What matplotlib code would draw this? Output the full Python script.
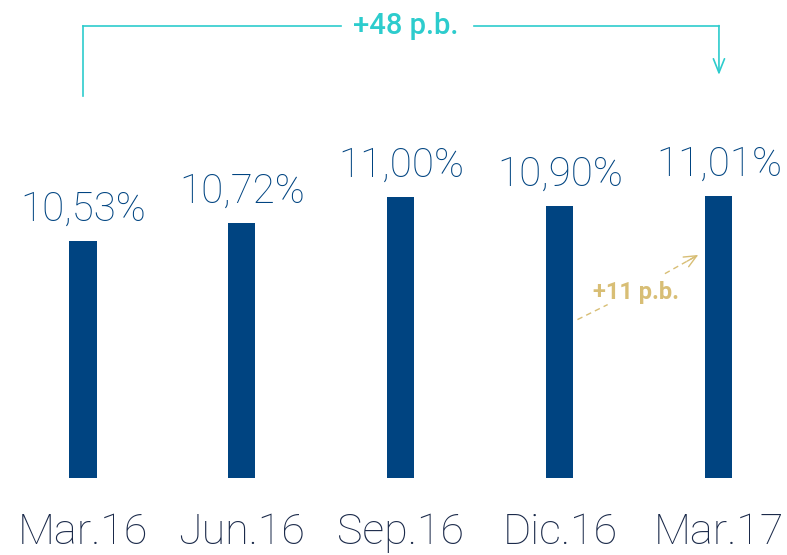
import matplotlib
matplotlib.use("Agg")
import matplotlib.pyplot as plt
import numpy as np

categories = ["Mar.16", "Jun.16", "Sep.16", "Dic.16", "Mar.17"]
values = [10.53, 10.72, 11.00, 10.90, 11.01]
labels = ["10,53%", "10,72%", "11,00%", "10,90%", "11,01%"]
total_change = "+48 p.b."
last_change = "+11 p.b."

navy = "#004481"
teal = "#2dcccd"
gold = "#d8be75"

plt.rcParams['font.family'] = ['Roboto', 'DejaVu Sans']

fig = plt.figure(figsize=(7.87, 5.55), dpi=100)
ax = fig.add_axes([0, 0, 1, 1])
ax.set_xlim(-0.522, 4.428)
ax.set_ylim(7.179, 13.099)
ax.axis('off')

x = np.arange(len(categories))
ax.bar(x, np.array(values) - 8.0, bottom=8.0, width=0.17, color=navy)

for xi, v, lab in zip(x, values, labels):
    ax.text(xi, v + 0.13, lab, ha='center', va='bottom', fontsize=29,
            color=navy, fontweight='light')

for xi, c in zip(x, categories):
    ax.text(xi, 7.42, c, ha='center', va='center', fontsize=31,
            color="#1b2a4a", fontweight='light')

# +48 p.b. bracket
top_y = 12.82
ax.plot([0, 0], [12.07, top_y], color=teal, lw=1.2)
ax.plot([0, 1.62], [top_y, top_y], color=teal, lw=1.2)
ax.plot([2.46, 4.0], [top_y, top_y], color=teal, lw=1.2)
ax.annotate("", xy=(4.0, 12.3), xytext=(4.0, top_y + 0.006),
            arrowprops=dict(arrowstyle="->,head_length=1.0,head_width=0.4",
                            color=teal, lw=1.2, shrinkA=0, shrinkB=0))
ax.text(2.03, top_y, total_change, ha='center', va='center', fontsize=21,
        color=teal, fontweight='medium')

# +11 p.b. dashed arrow, broken around the label
ax.plot([3.11, 3.30], [9.69, 9.85], color=gold, lw=1, linestyle=(0, (4, 3)))
ax.plot([3.66, 3.87], [10.18, 10.38], color=gold, lw=1, linestyle=(0, (4, 3)))
ax.annotate("", xy=(3.87, 10.38), xytext=(3.80, 10.313),
            arrowprops=dict(arrowstyle="->,head_length=0.9,head_width=0.4",
                            color=gold, lw=1, shrinkA=0, shrinkB=0))
ax.text(3.48, 9.98, last_change, ha='center', va='center', fontsize=17,
        color=gold, fontweight='bold')

fig.savefig("out.png")
